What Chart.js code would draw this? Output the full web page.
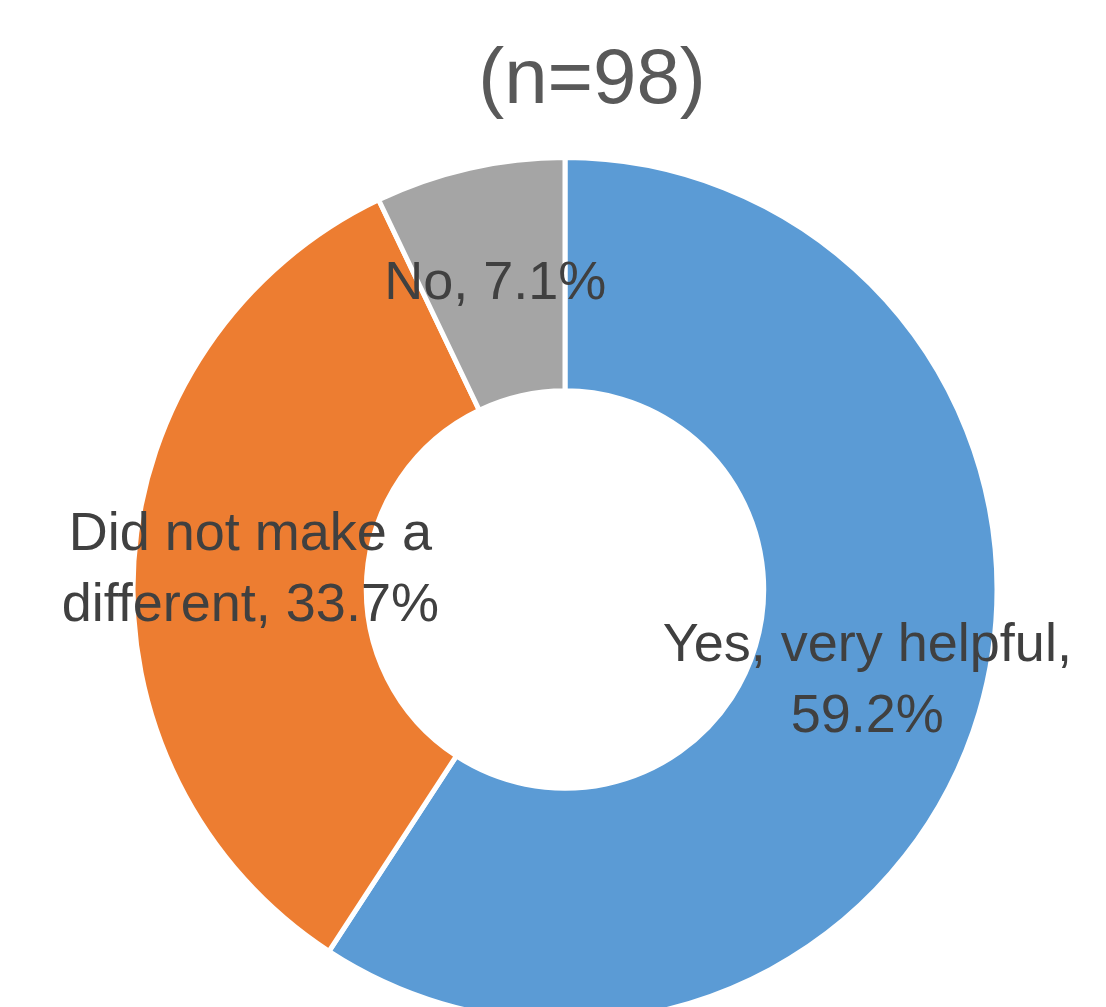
<!DOCTYPE html>
<html>
  <head>
    <script src="https://cdn.jsdelivr.net/npm/chart.js@4.4.1/dist/chart.umd.min.js"></script>
    <style>
      html, body { margin: 0; padding: 0; background: #fff; overflow: hidden; }
      #wrap { position: relative; width: 1106px; height: 1024px; }
    </style>
  </head>
  <body>
    <div id="wrap"><canvas id="chart-helpful"></canvas></div>
    <script>
      // INPUT DATA

      const categories = ["Yes, very helpful", "Did not make a different", "No"];
      const percents = [59.2, 33.7, 7.1];
      const sliceColors = ["#5B9BD5", "#ED7D31", "#A5A5A5"];
      // how many words go on the first label line (null = one line)
      const wrapAfter = [3, 4, null];
      const titleText = "(n=98)";

      // LABEL TEXT

      const labelLines = categories.map(function (c, i) {
        const words = (c + ", " + percents[i].toFixed(1) + "%").split(" ");
        const n = wrapAfter[i];
        if (!n) return [words.join(" ")];
        return [words.slice(0, n).join(" "), words.slice(n).join(" ")];
      });

      // title sits a bit right of the ring centre in the original, so draw it by hand
      const titleDraw = {
        id: "titleDraw",
        afterDraw(chart) {
          const ctx = chart.ctx;
          ctx.save();
          ctx.font = "78px 'Liberation Sans'";
          ctx.fillStyle = "#595959";
          ctx.textAlign = "center";
          ctx.textBaseline = "alphabetic";
          ctx.fillText(titleText, 592, 103);
          ctx.restore();
        },
      };

      // in-slice labels, drawn at the middle of each arc
      const sliceLabels = {
        id: "sliceLabels",
        afterDatasetsDraw(chart) {
          const ctx = chart.ctx;
          const meta = chart.getDatasetMeta(0);
          ctx.save();
          ctx.font = "54px 'Liberation Sans'";
          ctx.fillStyle = "#404040";
          ctx.textAlign = "center";
          ctx.textBaseline = "middle";
          const lh = 71;
          meta.data.forEach(function (arc, i) {
            const p = arc.tooltipPosition();
            const lines = labelLines[i];
            const y0 = p.y - ((lines.length - 1) * lh) / 2;
            lines.forEach(function (t, j) {
              ctx.fillText(t, p.x, y0 + j * lh + 2);
            });
          });
          ctx.restore();
        },
      };

      const ctx = document.getElementById("chart-helpful").getContext("2d");
      new Chart(ctx, {
        type: "doughnut",
        data: {
          labels: categories,
          datasets: [
            {
              data: percents,
              backgroundColor: sliceColors,
              borderColor: "#ffffff",
              borderWidth: 5,
            },
          ],
        },
        options: {
          responsive: true,
          maintainAspectRatio: false,
          animation: false,
          cutout: "46%",
          layout: { padding: { left: 24, right: 0, top: 155, bottom: 0 } },
          plugins: {
            legend: { display: false },
            tooltip: { enabled: false },
            title: { display: false },
          },
        },
        plugins: [sliceLabels, titleDraw],
      });
    </script>
  </body>
</html>
